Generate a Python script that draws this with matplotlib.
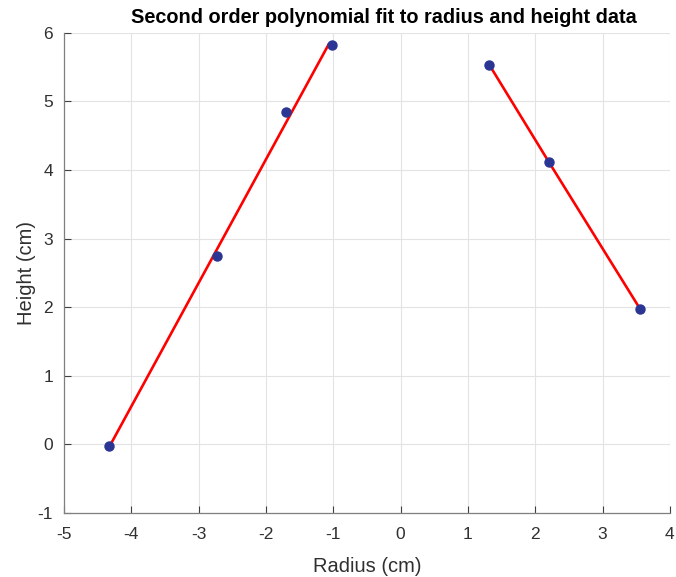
import numpy as np
import matplotlib
matplotlib.use('Agg')
import matplotlib.pyplot as plt

# measured radius / height pairs, left and right side of the profile
r_left = np.array([-4.33, -2.73, -1.71, -1.02])
h_left = np.array([-0.02, 2.75, 4.84, 5.83])
r_right = np.array([1.32, 2.20, 3.56])
h_right = np.array([5.53, 4.12, 1.97])

# second order fit of radius as a function of height, per side
p_left = np.polyfit(h_left, r_left, 2)
p_right = np.polyfit(h_right, r_right, 2)

plt.rcParams['font.family'] = ['Liberation Sans', 'DejaVu Sans']
plt.rcParams['axes.unicode_minus'] = False

fig = plt.figure(figsize=(6.76, 5.77), dpi=100)
ax = fig.add_axes([0.0947, 0.111, 0.8963, 0.832])

ax.plot(np.polyval(p_left, h_left), h_left, '-', color='#ff0000', lw=1.9, zorder=3)
ax.plot(np.polyval(p_right, h_right), h_right, '-', color='#ff0000', lw=1.9, zorder=3)
ax.plot(r_left, h_left, 'o', color='#2b3593', ms=6.5, zorder=4)
ax.plot(r_right, h_right, 'o', color='#2b3593', ms=6.5, zorder=4)

ax.set_xlim(-5, 4)
ax.set_ylim(-1, 6)
ax.set_xticks(np.arange(-5, 5))
ax.set_yticks(np.arange(-1, 7))
ax.grid(True, color='#e3e3e3', lw=0.8)
ax.set_axisbelow(True)

for side in ['top', 'right']:
    ax.spines[side].set_visible(False)
for side in ['left', 'bottom']:
    ax.spines[side].set_color('#7f7f7f')
    ax.spines[side].set_linewidth(0.9)
ax.tick_params(direction='in', length=5, width=0.8, color='#404040',
               labelsize=12.5, labelcolor='#303030')
ax.tick_params(axis='x', pad=10)
ax.tick_params(axis='y', pad=8)

ax.set_xlabel('Radius (cm)', fontsize=14.5, color='#303030', labelpad=11)
ax.set_ylabel('Height (cm)', fontsize=14.5, color='#303030', labelpad=1)
ax.set_title('Second order polynomial fit to radius and height data',
             fontsize=14.3, fontweight='bold', pad=7, x=0.528)

fig.savefig('out.png', dpi=100)
